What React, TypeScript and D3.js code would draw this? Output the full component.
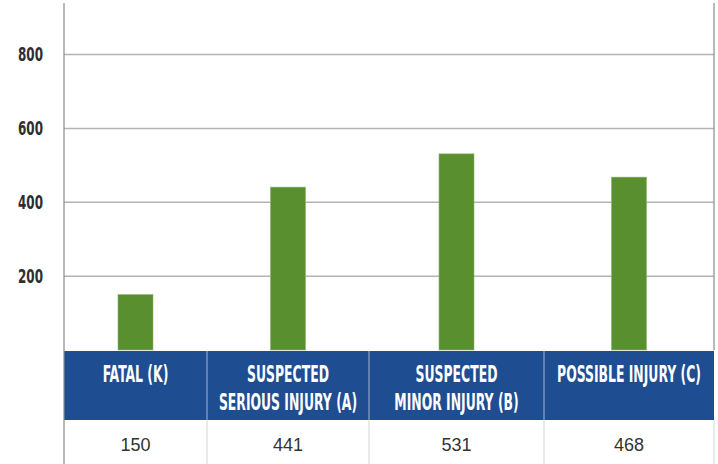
import * as d3 from "d3";

const categories = ["FATAL (K)", "SUSPECTED SERIOUS INJURY (A)", "SUSPECTED MINOR INJURY (B)", "POSSIBLE INJURY (C)"];
const headerLines = [["FATAL (K)"], ["SUSPECTED", "SERIOUS INJURY (A)"], ["SUSPECTED", "MINOR INJURY (B)"], ["POSSIBLE INJURY (C)"]];
const values = [150, 441, 531, 468];
const yTicks = [200, 400, 600, 800];

const W = 718;
const H = 464;
const LEFT = 64;
const COL_WIDTHS = [143, 162, 175, 170];
const PLOT_TOP = 3;
const BASE_Y = 350;
const HEADER_BOTTOM = 420;
const BAR_W = 35;

const BLUE = "#1e4d92";
const GREEN = "#5a8f2f";
const NARROW = "'Liberation Sans Narrow', 'DejaVu Sans Condensed', 'Arial Narrow', sans-serif";

export default function App() {
  // column edges (typed array from cumsum -> plain array)
  const edges = Array.from(d3.cumsum([LEFT, ...COL_WIDTHS]));
  const right = edges[edges.length - 1];
  const centers = COL_WIDTHS.map((_, i) => (edges[i] + edges[i + 1]) / 2);
  const x = d3.scaleOrdinal<string, number>().domain(categories).range(centers);
  const y = d3.scaleLinear().domain([0, 800]).range([BASE_Y, 54.5]);

  return (
    <svg width={W} height={H} style={{ position: "absolute", left: 0, top: 0, background: "#fff" }}>
      {/* gridlines */}
      {yTicks.map((t) => (
        <g key={t}>
          <line x1={LEFT} x2={right} y1={y(t)} y2={y(t)} stroke="#b4b4b4" strokeWidth={1.5} />
          <text
            transform={`translate(43,${y(t)}) scale(0.7,1)`}
            dy="0.36em"
            textAnchor="end"
            fontFamily={NARROW}
            fontWeight="bold"
            fontSize={19}
            fill="#2e2e2e"
          >
            {t}
          </text>
        </g>
      ))}

      {/* bars */}
      {categories.map((c, i) => (
        <rect
          key={c}
          x={x(c) - BAR_W / 2}
          y={y(values[i])}
          width={BAR_W}
          height={y(0) - y(values[i])}
          fill={GREEN}
          stroke="#8cb56c"
          strokeWidth={0.6}
        />
      ))}

      {/* header band */}
      <rect x={LEFT} y={BASE_Y + 1} width={right - LEFT} height={HEADER_BOTTOM - BASE_Y - 1} fill={BLUE} />
      {edges.slice(1, -1).map((e) => (
        <line key={e} x1={e} x2={e} y1={BASE_Y + 1} y2={HEADER_BOTTOM} stroke="#8fa4cb" strokeWidth={1.2} />
      ))}
      {categories.map((c, i) =>
        headerLines[i].map((ln, j) => (
          <text
            key={c + j}
            transform={`translate(${x(c)},${382 + j * 28}) scale(0.6,1)`}
            textAnchor="middle"
            fontFamily={NARROW}
            fontWeight="bold"
            fontSize={23}
            fill="#fff"
          >
            {ln}
          </text>
        ))
      )}

      {/* value row */}
      {edges.slice(1).map((e) => (
        <line key={e} x1={e} x2={e} y1={HEADER_BOTTOM} y2={H} stroke="#dadada" strokeWidth={1.2} />
      ))}
      {categories.map((c, i) => (
        <text
          key={c}
          x={x(c)}
          y={451}
          textAnchor="middle"
          fontFamily="'Liberation Sans', Arial, sans-serif"
          fontSize={18}
          fill="#333"
        >
          {values[i]}
        </text>
      ))}

      {/* axis lines */}
      <line x1={LEFT} x2={LEFT} y1={PLOT_TOP} y2={H} stroke="#8a8a8a" strokeWidth={1.2} />
      <line x1={right} x2={right} y1={PLOT_TOP} y2={BASE_Y} stroke="#8a8a8a" strokeWidth={1.2} />
    </svg>
  );
}
